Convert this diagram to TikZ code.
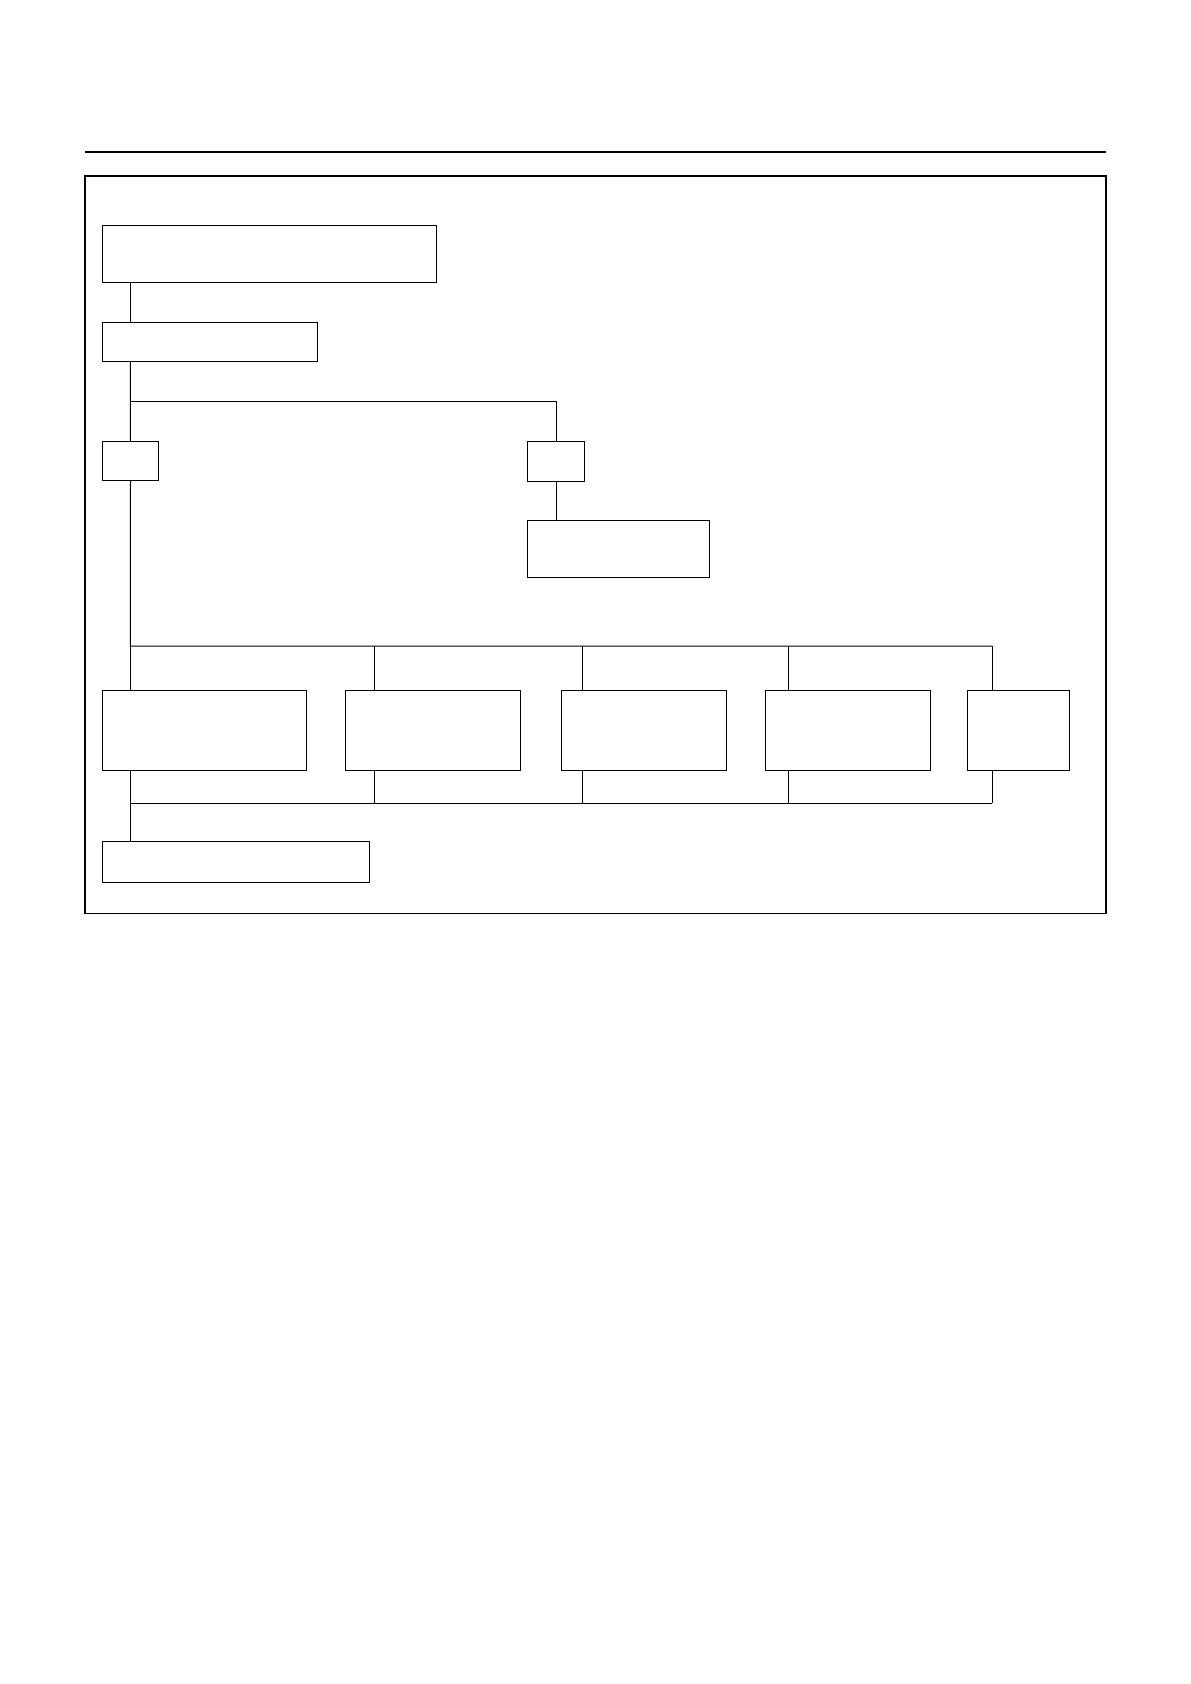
\documentclass[tikz,border=0pt]{standalone}
\usetikzlibrary{calc}
\tikzset{blk/.style={draw,line width=0.5pt,inner sep=0pt}}
\begin{document}
\begin{tikzpicture}[x=0.5pt,y=-0.5pt,line width=0.5pt]
\useasboundingbox (0,0) rectangle (1190,1684);
% rule and frame
\draw[line width=0.85pt] (85,152) -- (1106,152);
\draw[line width=0.7pt] (85,176) rectangle (1106,913.5);
% upper boxes
\node[blk,minimum width=167.2pt,minimum height=28.5pt] (head) at (269.5,253.8) {};
\node[blk,minimum width=107.7pt,minimum height=19.7pt] (sub) at (210,342) {};
\node[blk,minimum width=28.2pt,minimum height=19.7pt] (ls) at (130.5,461) {};
\node[blk,minimum width=28.7pt,minimum height=20pt] (rs) at (556,461.3) {};
\node[blk,minimum width=91.2pt,minimum height=28.35pt] (rbox) at (618.5,548.7) {};
% row of boxes
\foreach \n/\cx/\w in {a/204.5/102,b/432.8/87.75,c/644/82.5,d/847.8/82.75,e/1018.6/50.9}
	\node[blk,minimum width=\w pt,minimum height=40.25pt] (\n) at (\cx,730.3) {};
\node[blk,minimum width=133.35pt,minimum height=20.5pt] (last) at (235.7,861.8) {};
% connectors
\coordinate (fork) at (130.3,401.3);
\draw (fork |- head.south) -- (fork |- sub.north);
\draw (fork |- sub.south) -- (fork) -- (ls.north);
\draw (fork) -- (fork -| rs) -- (rs.north);
\draw (rs.south) -- (rs.south |- rbox.north);
\foreach \i/\bx in {1/130.3,2/374.7,3/582.6,4/788.9,5/992.3}{
	\coordinate (up\i) at (\bx,646);
	\coordinate (dn\i) at (\bx,803);
	}
\draw (ls.south) -- (up1) -- (up5);
\draw (dn1) -- (dn5);
\foreach \i/\n in {1/a,2/b,3/c,4/d,5/e}{
	\draw (up\i) -- (up\i |- \n.north);
	\draw (dn\i |- \n.south) -- (dn\i);
	}
\draw (dn1) -- (dn1 |- last.north);
\end{tikzpicture}
\end{document}
